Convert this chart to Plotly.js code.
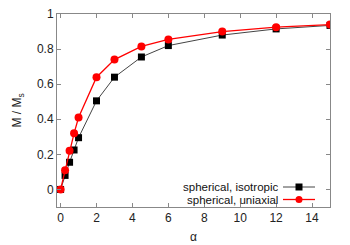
<!DOCTYPE html>
<html><head><meta charset="utf-8">
<script src="https://cdn.plot.ly/plotly-3.0.1.min.js"></script>
<style>body{margin:0;padding:0;background:#fff}#g{width:350px;height:245px}</style>
</head><body><div id="g"></div>
<script>
const alpha = [0, 0.25, 0.5, 0.75, 1, 2, 3, 4.5, 6, 9, 12, 15];
const isotropic = [0, 0.08, 0.155, 0.225, 0.295, 0.505, 0.64, 0.755, 0.82, 0.88, 0.915, 0.935];
const uniaxial = [0, 0.11, 0.22, 0.32, 0.41, 0.64, 0.74, 0.815, 0.855, 0.9, 0.925, 0.94];
const names = ['spherical, isotropic', 'spherical, uniaxial'];
const xticks = [0, 2, 4, 6, 8, 10, 12, 14];
const yticks = [0, 0.2, 0.4, 0.6, 0.8, 1];
const yTickText = ['0', '0.2', '0.4', '0.6', '0.8', '1'];

const colors = ['#000', '#ff0000'];
const lineColors = ['#444', '#ff0000'];
const font = {family: 'Liberation Sans, Arial, sans-serif', size: 12, color: '#222'};
const traces = [
  {x: alpha, y: isotropic, mode: 'lines+markers', name: names[0], line: {color: lineColors[0], width: 1}, marker: {symbol: 'square', size: 7, color: colors[0]}},
  {x: alpha, y: uniaxial, mode: 'lines+markers', name: names[1], line: {color: lineColors[1], width: 1.3}, marker: {symbol: 'circle', size: 8, color: colors[1]}}
];
const axisCommon = {showline: true, mirror: 'ticks', linecolor: '#888', linewidth: 1, ticks: 'inside', ticklen: 4, tickcolor: '#888', showgrid: false, zeroline: false, tickfont: font};

// legend drawn manually (text left of sample, as in reference)
const L = 57, R = 330, T = 14, B = 207;
const px = X => (X - L) / (R - L);
const py = Y => (B - Y) / (B - T);
const legY = [187, 199.5];
const shapes = [];
const annotations = [];
names.forEach((n, i) => {
  shapes.push({type: 'line', xref: 'paper', yref: 'paper', x0: px(283), x1: px(315), y0: py(legY[i]), y1: py(legY[i]), line: {color: lineColors[i], width: i ? 1.3 : 1}});
  shapes.push({type: i ? 'circle' : 'rect', xref: 'paper', yref: 'paper', xsizemode: 'pixel', ysizemode: 'pixel', xanchor: px(299), yanchor: py(legY[i]), x0: -3.5, x1: 3.5, y0: -3.5, y1: 3.5, fillcolor: colors[i], line: {width: 0}});
  annotations.push({xref: 'paper', yref: 'paper', x: px(279), y: py(legY[i]), xanchor: 'right', yanchor: 'middle', height: 12, borderpad: 0, text: n, showarrow: false, font: {family: font.family, size: 11.5, color: '#111'}});
});

const layout = {
  width: 350, height: 245,
  margin: {l: 57, r: 20, t: 14, b: 38},
  paper_bgcolor: '#fff', plot_bgcolor: '#fff',
  showlegend: false,
  xaxis: Object.assign({}, axisCommon, {range: [-0.2, 15], tickvals: xticks, title: {text: 'α', font: font, standoff: 8}}),
  yaxis: Object.assign({}, axisCommon, {range: [-0.1, 1], tickvals: yticks, ticktext: yTickText, title: {text: 'M / M<sub>s</sub>', font: font, standoff: 12}}),
  shapes: shapes,
  annotations: annotations
};
Plotly.newPlot('g', traces, layout, {staticPlot: true, displayModeBar: false});
</script></body></html>
